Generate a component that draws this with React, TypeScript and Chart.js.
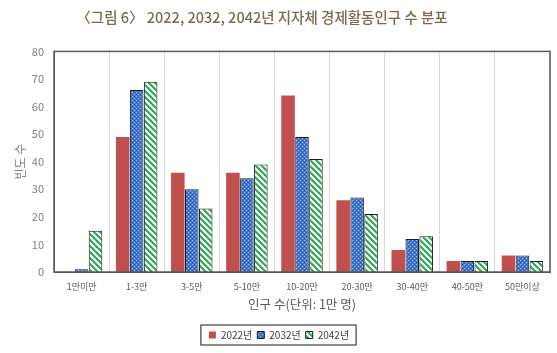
import React, { useEffect, useRef } from "react";
import { Chart, registerables } from "chart.js";

Chart.register(...registerables);

const categories = ["1만미만", "1-3만", "3-5만", "5-10만", "10-20만", "20-30만", "30-40만", "40-50만", "50만이상"];
const seriesNames = ["2022년", "2032년", "2042년"];
const values2022 = [0, 49, 36, 36, 64, 26, 8, 4, 6];
const values2032 = [1, 66, 30, 34, 49, 27, 12, 4, 6];
const values2042 = [15, 69, 23, 39, 41, 21, 13, 4, 4];
const yTicks = [0, 10, 20, 30, 40, 50, 60, 70, 80];

const FONT = "'Noto Sans CJK KR', 'Noto Sans', sans-serif";

function makeBluePattern(ctx: CanvasRenderingContext2D) {
  const c = document.createElement("canvas");
  c.width = 4;
  c.height = 4;
  const g = c.getContext("2d")!;
  g.fillStyle = "#4277cc";
  g.fillRect(0, 0, 4, 4);
  g.fillStyle = "#9bbef0";
  g.fillRect(0, 0, 1, 1);
  g.fillRect(2, 2, 1, 1);
  g.fillStyle = "#2a55a0";
  g.fillRect(2, 0, 1, 1);
  g.fillRect(0, 2, 1, 1);
  return ctx.createPattern(c, "repeat")!;
}

function makeGreenPattern(ctx: CanvasRenderingContext2D) {
  const c = document.createElement("canvas");
  c.width = 6;
  c.height = 6;
  const g = c.getContext("2d")!;
  g.fillStyle = "#ffffff";
  g.fillRect(0, 0, 6, 6);
  g.strokeStyle = "#2fa556";
  g.lineWidth = 2.2;
  for (const off of [-6, 0, 6]) {
    g.beginPath();
    g.moveTo(-1, off - 1);
    g.lineTo(7, off + 7);
    g.stroke();
  }
  return ctx.createPattern(c, "repeat")!;
}

const frameAndLegendBox = {
  id: "frameAndLegendBox",
  afterLayout(chart: any) {
    const t = chart.titleBlock;
    if (t) {
      t.left -= 17;
      t.right -= 17;
    }
  },
  afterDraw(chart: any) {
    const { ctx, chartArea } = chart;
    ctx.save();
    ctx.strokeStyle = "#595959";
    ctx.lineWidth = 1.5;
    ctx.strokeRect(chartArea.left, chartArea.top, chartArea.right - chartArea.left, chartArea.bottom - chartArea.top);
    const boxes = chart.legend && chart.legend.legendHitBoxes;
    if (boxes && boxes.length) {
      const first = boxes[0];
      const last = boxes[boxes.length - 1];
      const x0 = first.left - 8;
      const x1 = last.left + last.width + 7;
      const y0 = first.top - 5;
      const y1 = first.top + first.height + 5;
      ctx.strokeStyle = "#404040";
      ctx.lineWidth = 1.2;
      ctx.strokeRect(x0, y0, x1 - x0, y1 - y0);
    }
    ctx.restore();
  },
};

export default function App() {
  const ref = useRef<HTMLCanvasElement | null>(null);

  useEffect(() => {
    document.body.style.margin = "0";
    const canvas = ref.current!;
    const ctx = canvas.getContext("2d")!;
    const blue = makeBluePattern(ctx);
    const green = makeGreenPattern(ctx);

    const chart = new Chart(ctx, {
      type: "bar",
      data: {
        labels: categories,
        datasets: [
          { label: seriesNames[0], data: values2022, backgroundColor: "#c0504d", borderWidth: 0 },
          { label: seriesNames[1], data: values2032, backgroundColor: blue, borderColor: "#1a1a1a", borderWidth: 1 },
          { label: seriesNames[2], data: values2042, backgroundColor: green, borderColor: "#1a1a1a", borderWidth: 1 },
        ],
      },
      options: {
        animation: false,
        responsive: false,
        maintainAspectRatio: false,
        datasets: { bar: { categoryPercentage: 0.76, barPercentage: 0.97 } },
        layout: { padding: { left: 8, right: 7, top: 0, bottom: 3 } },
        plugins: {
          title: {
            display: true,
            text: "〈그림 6〉 2022, 2032, 2042년 지자체 경제활동인구 수 분포",
            color: "#7b6a4e",
            font: { family: FONT, size: 14.5, weight: 500 },
            padding: { top: 9, bottom: 25 },
          },
          legend: {
            display: true,
            position: "bottom",
            labels: {
              color: "#404040",
              font: { family: FONT, size: 10 },
              boxWidth: 7,
              boxHeight: 7,
              padding: 5,
            },
          },
          tooltip: { enabled: false },
        },
        scales: {
          x: {
            grid: { display: true, color: "#d9d9d9", offset: true, drawTicks: false },
            border: { display: true, color: "#595959" },
            ticks: { color: "#595959", font: { family: FONT, size: 9 }, padding: 9, maxRotation: 0, autoSkip: false },
            afterFit: (axis: any) => {
              axis.height = 53;
            },
            title: {
              display: true,
              text: "인구 수(단위: 1만 명)",
              color: "#595959",
              font: { family: FONT, size: 12.5 },
              padding: { top: 0, bottom: 13 },
            },
          },
          y: {
            min: 0,
            max: 80,
            grid: { display: false, drawTicks: false },
            border: { display: true, color: "#595959" },
            afterBuildTicks: (axis: any) => {
              axis.ticks = yTicks.map((v) => ({ value: v }));
            },
            afterFit: (axis: any) => {
              axis.width = 46;
            },
            ticks: { color: "#7f7f7f", font: { family: FONT, size: 11 }, padding: 10 },
            title: {
              display: true,
              text: "빈도 수",
              color: "#7f7f7f",
              font: { family: FONT, size: 12 },
              padding: { top: 5, bottom: 4 },
            },
          },
        },
      },
      plugins: [frameAndLegendBox],
    });
    return () => chart.destroy();
  }, []);

  return (
    <div style={{ width: 557, height: 353, background: "#ffffff" }}>
      <canvas ref={ref} width={557} height={353} style={{ display: "block" }} />
    </div>
  );
}
